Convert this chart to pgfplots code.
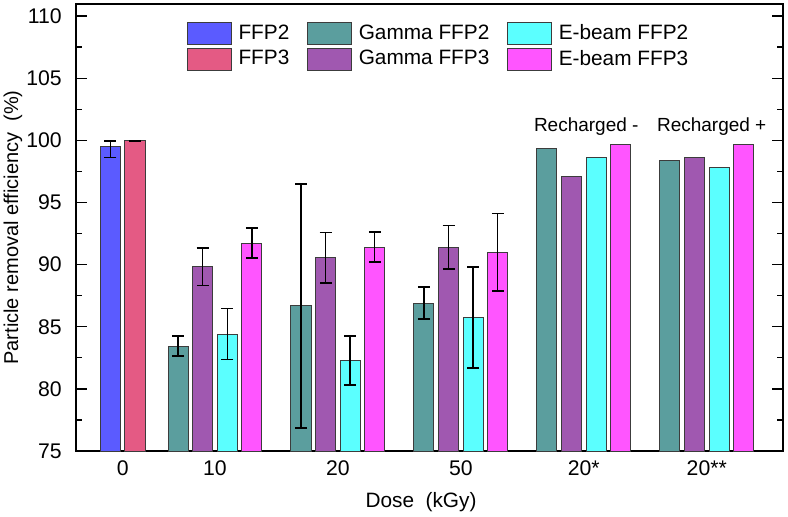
\documentclass[border=0pt]{standalone}
\usepackage{pgfplots}
\pgfplotsset{compat=1.18}
\usepackage{pgfplotstable}
\usepackage{fontspec}
\setmainfont{Liberation Sans}

\definecolor{cffptwo}{RGB}{91,91,255}
\definecolor{cffpthree}{RGB}{228,90,132}
\definecolor{cgtwo}{RGB}{91,158,158}
\definecolor{cgthree}{RGB}{160,88,176}
\definecolor{cetwo}{RGB}{91,255,255}
\definecolor{cethree}{RGB}{255,85,255}
\definecolor{barborder}{RGB}{60,60,60}

% x = bar position, y = value, ep/em = error plus/minus
\pgfplotstableread{
x y ep em
0.15 99.54 0.42 0.92
}\ffptwo
\pgfplotstableread{
x y ep em
0.35 99.95 0.04 0.04
}\ffpthree
\pgfplotstableread{
x y ep em
0.7 83.45 0.80 0.80
1.7 86.67 9.83 9.83
2.7 86.91 1.30 1.30
3.7 99.35 0 0
4.7 98.41 0 0
}\gtwo
\pgfplotstableread{
x y ep em
0.9 89.83 1.50 1.50
1.9 90.55 2.03 2.03
2.9 91.41 1.75 1.75
3.9 97.10 0 0
4.9 98.62 0 0
}\gthree
\pgfplotstableread{
x y ep em
1.1 84.41 2.04 2.04
2.1 82.29 1.97 1.97
3.1 85.75 4.07 4.07
4.1 98.65 0 0
5.1 97.85 0 0
}\etwo
\pgfplotstableread{
x y ep em
1.3 91.73 1.20 1.20
2.3 91.41 1.20 1.20
3.3 90.98 3.12 3.12
4.3 99.64 0 0
5.3 99.64 0 0
}\ethree

\pgfplotsset{
  mybar/.style={ybar, bar width=0.163, bar shift=0pt, draw=barborder, line width=0.5pt, fill=#1},
  myerr/.style={
    error bars/.cd, y dir=both, y explicit,
    error bar style={line width=0.7pt, draw=black},
    error mark options={rotate=90, mark size=3pt, line width=0.7pt, draw=black},
    /pgfplots/.cd},
}

\begin{document}
\fontsize{10.4}{12}\selectfont
\begin{tikzpicture}
\begin{axis}[
  scale only axis,
  width=353.5pt, height=223.5pt,
  xmin=-0.13, xmax=5.62,
  ymin=75, ymax=110.97,
  xtick={0.25,1,2,3,4,5},
  xticklabels={0,10,20,50,20*,20**},
  xtick style={draw=none},
  ytick={75,80,...,110},
  minor y tick num=1,
  tick align=inside,
  major tick length=5.5pt,
  minor tick length=2.8pt,
  ytick style={line width=0.65pt, black},
  minor y tick style={line width=0.65pt, black},
  axis line style={line width=0.7pt, black},
  /pgf/number format/assume math mode=true,
  ticklabel style={font=\fontsize{10.6}{12}\selectfont},
  yticklabel style={xshift=-3.5pt},
  xticklabel style={yshift=-1pt},
  ylabel={Particle removal efficiency\ \ (\%)},
  xlabel={Dose\ \ (kGy)},
  ylabel style={at={(axis description cs:-0.0891,0.5)}, anchor=center, font=\fontsize{10}{12}\selectfont},
  xlabel style={at={(axis description cs:0.488,-0.114)}, anchor=center},
  legend columns=3,
  legend cell align=left,
  legend image code/.code={\draw[#1] (0pt,-5.5pt) rectangle (22pt,5.5pt);},
  legend style={draw=none, fill=none, at={(0.1566,0.9604)}, anchor=north west,
    inner sep=0pt, row sep=1.25pt, column sep=3.2pt,
    nodes={inner sep=0pt},
    /tikz/every even column/.append style={column sep=9pt}},
]
% bars with error bars (0, 10, 20, 50 kGy)
\addplot[mybar=cffptwo, myerr] table[x=x,y=y,y error plus=ep,y error minus=em]{\ffptwo};
\addlegendentry{FFP2}
\addplot[mybar=cgtwo, restrict x to domain=0:3.5, myerr] table[x=x,y=y,y error plus=ep,y error minus=em]{\gtwo};
\addlegendentry{Gamma FFP2}
\addplot[mybar=cetwo, restrict x to domain=0:3.5, myerr] table[x=x,y=y,y error plus=ep,y error minus=em]{\etwo};
\addlegendentry{E-beam FFP2}
\addplot[mybar=cffpthree, myerr] table[x=x,y=y,y error plus=ep,y error minus=em]{\ffpthree};
\addlegendentry{FFP3}
\addplot[mybar=cgthree, restrict x to domain=0:3.5, myerr] table[x=x,y=y,y error plus=ep,y error minus=em]{\gthree};
\addlegendentry{Gamma FFP3}
\addplot[mybar=cethree, restrict x to domain=0:3.5, myerr] table[x=x,y=y,y error plus=ep,y error minus=em]{\ethree};
\addlegendentry{E-beam FFP3}

% recharged bars (no error bars)
\addplot[mybar=cgtwo, forget plot, restrict x to domain=3.5:6] table[x=x,y=y]{\gtwo};
\addplot[mybar=cgthree, forget plot, restrict x to domain=3.5:6] table[x=x,y=y]{\gthree};
\addplot[mybar=cetwo, forget plot, restrict x to domain=3.5:6] table[x=x,y=y]{\etwo};
\addplot[mybar=cethree, forget plot, restrict x to domain=3.5:6] table[x=x,y=y]{\ethree};

\node[anchor=center, font=\fontsize{9.5}{11}\selectfont] at (axis cs:4.02,101.07) {Recharged -};
\node[anchor=center, font=\fontsize{9.5}{11}\selectfont] at (axis cs:5.04,101.07) {Recharged +};

\coordinate (ll) at (rel axis cs:0,0);
\coordinate (ur) at (rel axis cs:1,1);
\end{axis}
\pgfresetboundingbox
\path ([shift={(-38pt,-32.5pt)}]ll) rectangle ([shift={(2.5pt,2pt)}]ur);
\end{tikzpicture}
\end{document}
